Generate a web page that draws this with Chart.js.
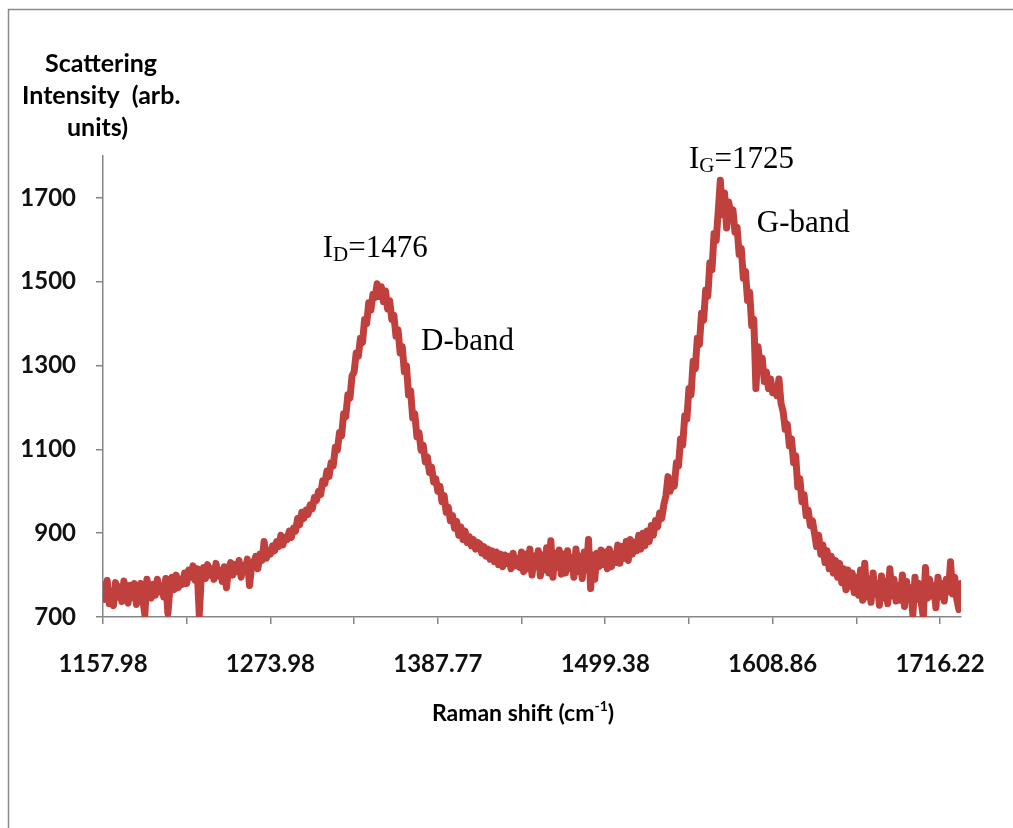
<!DOCTYPE html>
<html>
<head>
<meta charset="utf-8">
<script src="https://cdn.jsdelivr.net/npm/chart.js@4.4.1/dist/chart.umd.min.js"></script>
<style>
html, body { margin: 0; padding: 0; background: #fff; }
canvas { display: block; }
</style>
</head>
<body>
<canvas id="myChart" width="1013" height="828"></canvas>
<script>
// category labels shown on the x axis (Raman shift, cm-1) and the point index they sit at
var xLabels = ['1157.98', '1273.98', '1387.77', '1499.38', '1608.86', '1716.22'];
var xLabelIdx = [0, 80, 160, 240, 320, 400];
var xTickIdx = [0, 40, 80, 120, 160, 200, 240, 280, 320, 360, 400];
var yTicks = [700, 900, 1100, 1300, 1500, 1700];

// scattering intensity, one value per point
var intensity = [
    777, 742, 787, 732, 762, 727, 782, 747, 772, 737, 786, 753, 733, 776, 746, 780, 730, 770, 780, 742,
    705, 790, 760, 745, 778, 752, 790, 760, 775, 748, 792, 708, 770, 795, 765, 800, 770, 790, 778, 805,
    780, 812, 795, 822, 788, 815, 705, 800, 818, 792, 825, 800, 815, 790, 828, 798, 812, 785, 820, 770,
    815, 830, 800, 825, 808, 835, 795, 822, 812, 838, 775, 820, 830, 845, 815, 850, 835, 880, 840, 855,
    850, 870, 858, 880, 868, 895, 872, 890, 885, 905, 890, 912, 905, 935, 920, 950, 935, 955, 945, 968,
    958, 985, 978, 1000, 992, 1025, 1018, 1048, 1035, 1068, 1060, 1105, 1098, 1140, 1132, 1185, 1178, 1230, 1222, 1275,
    1285, 1330, 1322, 1365, 1355, 1410, 1400, 1450, 1432, 1470, 1462, 1495, 1465, 1488, 1452, 1478, 1435, 1455, 1410, 1420,
    1370, 1385, 1330, 1345, 1285, 1300, 1230, 1240, 1175, 1185, 1130, 1140, 1098, 1110, 1070, 1082, 1045, 1058, 1022, 1030,
    1000, 1012, 975, 990, 950, 962, 930, 942, 912, 928, 895, 915, 885, 905, 878, 892, 870, 885, 862, 878,
    875, 852, 868, 845, 862, 838, 858, 832, 855, 825, 850, 820, 848, 828, 845, 815, 852, 822, 840, 818,
    855, 808, 850, 815, 862, 800, 845, 820, 858, 798, 848, 812, 865, 805, 882, 795, 852, 818, 860, 802,
    850, 805, 858, 815, 842, 795, 862, 808, 845, 792, 855, 812, 885, 768, 848, 790, 852, 820, 860, 825,
    855, 815, 862, 820, 850, 830, 872, 828, 868, 840, 880, 835, 885, 850, 878, 858, 895, 862, 900, 870,
    905, 880, 918, 895, 930, 915, 948, 935, 968, 990, 1035, 1000, 1025, 1012, 1068, 1060, 1125, 1110, 1180, 1172,
    1245, 1230, 1310, 1292, 1365, 1350, 1425, 1408, 1480, 1465, 1545, 1528, 1615, 1598, 1668, 1742, 1660, 1712, 1628, 1690,
    1660, 1672, 1618, 1630, 1565, 1580, 1508, 1525, 1455, 1475, 1395, 1410, 1245, 1345, 1300, 1318, 1262, 1285, 1245, 1268,
    1235, 1250, 1228, 1268, 1210, 1190, 1148, 1160, 1108, 1125, 1068, 1085, 1010, 1030, 975, 992, 942, 955, 918, 930,
    900, 868, 895, 850, 872, 830, 858, 815, 845, 805, 835, 795, 828, 782, 815, 765, 812, 772, 805, 758,
    795, 752, 812, 740, 828, 748, 790, 735, 805, 755, 780, 728, 798, 745, 785, 732, 815, 750, 790, 738,
    775, 740, 800, 725, 785, 748, 770, 705, 795, 742, 780, 735, 700, 818, 745, 790, 750, 775, 722, 795,
    748, 780, 738, 790, 760, 832, 755, 795, 742, 718, 780
];

// peak labels, anchored in data space (point index, intensity)
var notes = [
    { main: 'I', sub: 'D', rest: '=1476', at: 105, val: 1559 },
    { main: 'D-band', sub: '', rest: '', at: 152, val: 1337 },
    { main: 'I', sub: 'G', rest: '=1725', at: 280, val: 1772 },
    { main: 'G-band', sub: '', rest: '', at: 312.4, val: 1619 }
];

var tickFont = { family: 'Lato', weight: 'bold', size: 24 };
var axisGrey = '#868686';

var framePlugin = {
    id: 'frame',
    beforeDraw: function (chart) {
        var c = chart.ctx;
        c.save();
        c.fillStyle = '#fff';
        c.fillRect(0, 0, chart.width, chart.height);
        c.strokeStyle = '#8a8a8a';
        c.lineWidth = 1.5;
        c.strokeRect(8.5, 9.5, chart.width + 20, chart.height + 20);
        c.restore();
    }
};

var textPlugin = {
    id: 'texts',
    afterDraw: function (chart) {
        var c = chart.ctx;
        var xs = chart.scales.x, ys = chart.scales.y;
        c.save();
        c.fillStyle = '#000';
        c.textBaseline = 'alphabetic';
        c.textAlign = 'left';

        // y axis title, three lines
        c.font = 'bold 25px Lato';
        c.fillText('Scattering', 45, 72);
        c.fillText('Intensity  (arb.', 22, 104);
        c.fillText('units)', 67, 136);

        // x axis title with superscript
        c.font = 'bold 23px Lato';
        var t1 = 'Raman shift (cm';
        var w1 = c.measureText(t1).width;
        var w2, w3;
        c.font = 'bold 14px Lato';
        w2 = c.measureText('-1').width;
        c.font = 'bold 23px Lato';
        w3 = c.measureText(')').width;
        var x0 = 523 - (w1 + w2 + w3) / 2;
        c.fillText(t1, x0, 721);
        c.font = 'bold 14px Lato';
        c.fillText('-1', x0 + w1, 711);
        c.font = 'bold 23px Lato';
        c.fillText(')', x0 + w1 + w2, 721);

        // peak notes
        notes.forEach(function (n) {
            var px = xs.getPixelForValue(n.at);
            var py = ys.getPixelForValue(n.val);
            c.font = '31px "Liberation Serif"';
            c.fillText(n.main, px, py);
            px += c.measureText(n.main).width;
            if (n.sub) {
                c.font = '21px "Liberation Serif"';
                c.fillText(n.sub, px, py + 4);
                px += c.measureText(n.sub).width;
            }
            if (n.rest) {
                c.font = '31px "Liberation Serif"';
                c.fillText(n.rest, px, py);
            }
        });
        c.restore();
    }
};

var ctx = document.getElementById('myChart').getContext('2d');
var chart = new Chart(ctx, {
    type: 'line',
    data: {
        datasets: [{
            data: intensity.map(function (v, i) { return { x: i, y: v }; }),
            borderColor: '#c0403e',
            borderWidth: 7,
            pointRadius: 0,
            tension: 0,
            borderJoinStyle: 'round',
            borderCapStyle: 'round'
        }]
    },
    options: {
        responsive: false,
        animation: false,
        layout: { padding: { left: 0, top: 156, right: 52, bottom: 0 } },
        plugins: { legend: { display: false }, tooltip: { enabled: false }, title: { display: false } },
        scales: {
            x: {
                type: 'linear',
                min: 0,
                max: 410,
                afterBuildTicks: function (s) { s.ticks = xTickIdx.map(function (v) { return { value: v }; }); },
                afterFit: function (s) { s.height = 211; },
                grid: { drawOnChartArea: false, tickLength: 7, color: axisGrey, lineWidth: 1.5 },
                border: { color: axisGrey, width: 1.5 },
                ticks: {
                    autoSkip: false,
                    maxRotation: 0,
                    padding: 26,
                    color: '#111',
                    font: tickFont,
                    callback: function (v) {
                        var k = xLabelIdx.indexOf(v);
                        return k >= 0 ? xLabels[k] : '';
                    }
                }
            },
            y: {
                min: 700,
                max: 1800,
                afterBuildTicks: function (s) { s.ticks = yTicks.map(function (v) { return { value: v }; }); },
                afterFit: function (s) { s.width = 103; },
                grid: { drawOnChartArea: false, tickLength: 7, color: axisGrey, lineWidth: 1.5 },
                border: { color: axisGrey, width: 1.5 },
                ticks: {
                    padding: 20,
                    color: '#111',
                    font: tickFont,
                    callback: function (v) { return String(v); }
                }
            }
        }
    },
    plugins: [framePlugin, textPlugin]
});
</script>
</body>
</html>
